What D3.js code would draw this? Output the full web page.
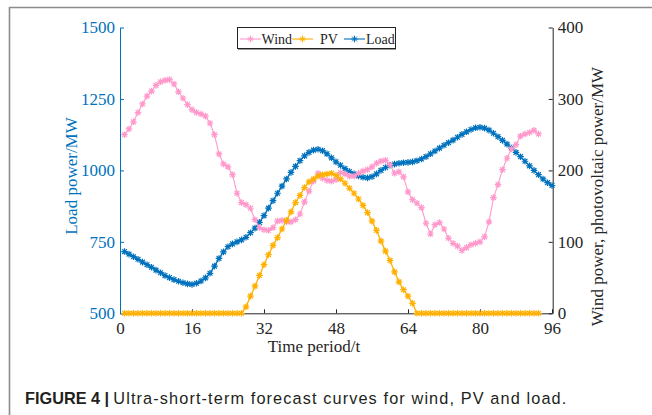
<!DOCTYPE html>
<html>
<head>
<meta charset="utf-8">
<script src="https://cdn.jsdelivr.net/npm/d3@7"></script>
<style>
  body { margin: 0; background: #fff; }
  svg { display: block; }
</style>
</head>
<body>
<svg id="fig" width="652" height="415"></svg>
<script>
// Axis ticks
const periodTicks = [0, 16, 32, 48, 64, 80, 96];
const loadTicks = [500, 750, 1000, 1250, 1500];
const renewTicks = [0, 100, 200, 300, 400];

// Series names (legend order)
const seriesNames = ["Wind", "PV", "Load"];

// Wind power forecast, MW, periods 1..93
const windMW = [
  250, 258, 268, 281, 293, 304, 311, 319, 324, 326,
  327, 321, 310, 301, 292, 285, 281, 279, 276, 266,
  250, 223, 209, 205, 194, 168, 155, 152, 147, 131,
  120, 117, 116, 120, 129, 130, 128, 128, 131, 139,
  156, 171, 185, 196, 189, 186, 185, 187, 197, 195,
  192, 192, 196, 199, 201, 205, 210, 213, 214, 208,
  196, 198, 191, 170, 159, 154, 148, 126, 111, 124,
  127, 118, 105, 98, 94, 88, 92, 96, 98, 100,
  107, 128, 162, 180, 201, 217, 230, 236, 248, 251,
  253, 256, 251
];

// PV power forecast, MW, periods 1..93
const pvMW = [
  0, 0, 0, 0, 0, 0, 0, 0, 0, 0,
  0, 0, 0, 0, 0, 0, 0, 0, 0, 0,
  0, 0, 0, 0, 0, 0, 0, 9, 24, 38,
  53, 68, 82, 95, 106, 118, 130, 142, 155, 165,
  176, 184, 188, 192, 194, 195, 196, 193, 188, 182,
  175, 168, 160, 151, 141, 129, 116, 101, 87, 74,
  58, 44, 33, 24, 14, 0, 0, 0, 0, 0,
  0, 0, 0, 0, 0, 0, 0, 0, 0, 0,
  0, 0, 0, 0, 0, 0, 0, 0, 0, 0,
  0, 0, 0
];

// Load forecast, MW, periods 1..96
const loadMW = [
  716, 707, 698, 689, 679, 670, 661, 651, 642, 632,
  625, 618, 612, 607, 603, 601, 605, 613, 624, 640,
  665, 692, 715, 733, 743, 750, 757, 766, 782, 798,
  818, 842, 868, 894, 920, 945, 970, 993, 1014, 1034,
  1051, 1063, 1071, 1074, 1069, 1058, 1044, 1030, 1018, 1006,
  996, 988, 981, 976, 974, 978, 988, 1000, 1010, 1018,
  1022, 1025, 1027, 1028, 1030, 1034, 1040, 1048, 1058, 1068,
  1078, 1088, 1097, 1106, 1116, 1126, 1135, 1143, 1149, 1151,
  1148, 1141, 1130, 1118, 1105, 1092, 1078, 1063, 1048, 1032,
  1016, 1000, 985, 970, 957, 947
];

const colors = { Wind: "#FF99CC", PV: "#FFB000", Load: "#0072BD" };
const axisDark = "#262626";
const serif = "'Liberation Serif', 'Times New Roman', serif";
const sans = "'Liberation Sans', Arial, sans-serif";

const svg = d3.select("#fig");

// Figure frame (top and left edges)
svg.append("path")
  .attr("d", "M9.5,415V7.5H652")
  .attr("fill", "none")
  .attr("stroke", "#8c8c8c")
  .attr("stroke-width", 1.6);

// Scales
const x = d3.scaleLinear().domain([0, 96]).range([120, 552]);
const yL = d3.scaleLinear().domain([500, 1500]).range([313.3, 27.5]);
const yR = d3.scaleLinear().domain([0, 400]).range([313.3, 27.5]);
const plain = d3.format("d");

function styleAxis(g, color) {
  g.select(".domain").attr("stroke", color).attr("stroke-width", 1);
  g.selectAll(".tick line").attr("stroke", color);
  g.selectAll(".tick text").attr("fill", color)
    .style("font-family", serif).style("font-size", "17px");
}

// Bottom axis
svg.append("g")
  .attr("transform", `translate(0,${yL.range()[0]})`)
  .call(d3.axisBottom(x).tickValues(periodTicks).tickFormat(plain)
    .tickSize(-4).tickSizeOuter(0).tickPadding(8.5))
  .call(g => styleAxis(g, axisDark));

// Left axis (load)
svg.append("g")
  .attr("transform", `translate(${x(0)},0)`)
  .call(d3.axisLeft(yL).tickValues(loadTicks).tickFormat(plain)
    .tickSize(-4).tickSizeOuter(0).tickPadding(5))
  .call(g => styleAxis(g, colors.Load));

// Right axis (wind, PV)
svg.append("g")
  .attr("transform", `translate(${x(96) + 0.7},0)`)
  .call(d3.axisRight(yR).tickValues(renewTicks).tickFormat(plain)
    .tickSize(-4).tickSizeOuter(0).tickPadding(5))
  .call(g => styleAxis(g, axisDark));

// Axis titles
svg.append("text")
  .attr("transform", "translate(77,176) rotate(-90)")
  .attr("text-anchor", "middle")
  .style("font-family", serif).style("font-size", "17px")
  .attr("fill", colors.Load)
  .text("Load power/MW");

svg.append("text")
  .attr("transform", "translate(603,196.5) rotate(-90)")
  .attr("text-anchor", "middle")
  .style("font-family", serif).style("font-size", "17px")
  .attr("fill", axisDark)
  .text("Wind power, photovoltaic power/MW");

svg.append("text")
  .attr("x", 314).attr("y", 352)
  .attr("text-anchor", "middle")
  .style("font-family", serif).style("font-size", "17px")
  .attr("fill", axisDark)
  .text("Time period/t");

// Asterisk marker
const star = "M-3.3,0H3.3M0,-3.3V3.3M-2.4,-2.4L2.4,2.4M-2.4,2.4L2.4,-2.4";

function drawSeries(values, yScale, color, lw) {
  const pts = values.map((v, i) => ({ t: i + 1, v }));
  const g = svg.append("g");
  g.append("path")
    .datum(pts)
    .attr("fill", "none")
    .attr("stroke", color)
    .attr("stroke-width", lw)
    .attr("d", d3.line().x(d => x(d.t)).y(d => yScale(d.v)));
  g.selectAll("path.mk")
    .data(pts)
    .join("path")
    .attr("class", "mk")
    .attr("transform", d => `translate(${x(d.t)},${yScale(d.v)})`)
    .attr("d", star)
    .attr("fill", "none")
    .attr("stroke", color)
    .attr("stroke-width", 1.2);
}

drawSeries(loadMW, yL, colors.Load, 1.4);
drawSeries(windMW, yR, colors.Wind, 1.1);
drawSeries(pvMW, yR, colors.PV, 1.3);

// Legend
const leg = svg.append("g");
leg.append("rect")
  .attr("x", 237.5).attr("y", 27.5).attr("width", 158).attr("height", 21)
  .attr("fill", "#fff").attr("stroke", "#222").attr("stroke-width", 1);
leg.append("line")
  .attr("x1", 238).attr("x2", 396).attr("y1", 49.5).attr("y2", 49.5)
  .attr("stroke", "#9a9a9a").attr("stroke-width", 1);

const legItems = [
  { name: seriesNames[0], x0: 240, x1: 261, tx: 261.5 },
  { name: seriesNames[1], x0: 292, x1: 313, tx: 320 },
  { name: seriesNames[2], x0: 344, x1: 365, tx: 366 }
];
legItems.forEach(it => {
  const c = colors[it.name];
  const cy = 39;
  leg.append("line")
    .attr("x1", it.x0).attr("x2", it.x1).attr("y1", cy).attr("y2", cy)
    .attr("stroke", c).attr("stroke-width", 1.1);
  leg.append("path")
    .attr("transform", `translate(${(it.x0 + it.x1) / 2},${cy})`)
    .attr("d", star).attr("fill", "none").attr("stroke", c).attr("stroke-width", 1);
  leg.append("text")
    .attr("x", it.tx).attr("y", cy + 4.7)
    .style("font-family", serif).style("font-size", "14px")
    .attr("fill", axisDark)
    .text(it.name);
});

// Caption
svg.append("text")
  .attr("x", 25).attr("y", 404)
  .style("font-family", sans).style("font-size", "16.3px").style("font-weight", "bold")
  .attr("fill", "#231f20")
  .text("FIGURE 4 |");
svg.append("text")
  .attr("x", 113.3).attr("y", 404)
  .attr("textLength", 453).attr("lengthAdjust", "spacing")
  .style("font-family", sans).style("font-size", "16.3px")
  .attr("fill", "#231f20")
  .text("Ultra-short-term forecast curves for wind, PV and load.");
</script>
</body>
</html>
